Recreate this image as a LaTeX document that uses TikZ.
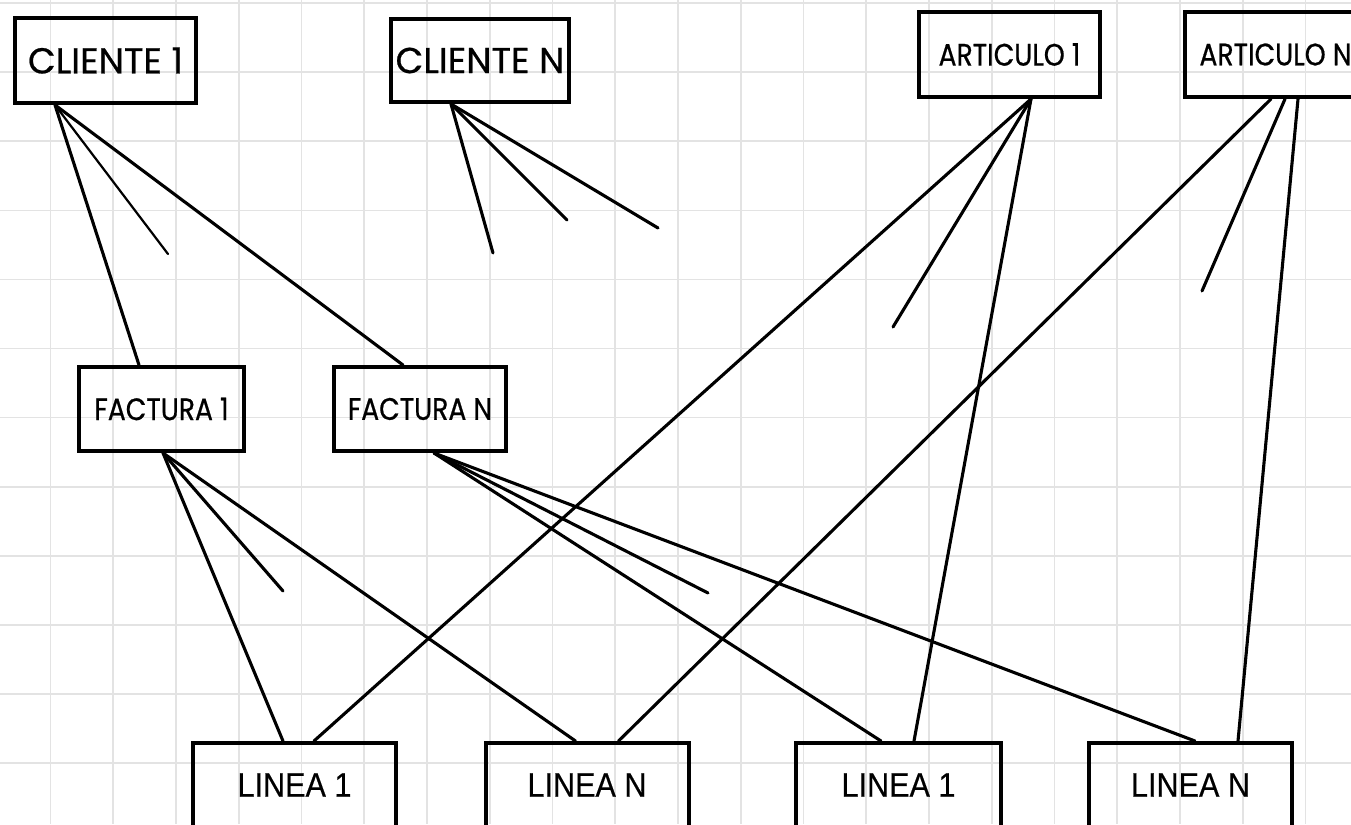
\documentclass[tikz,border=0pt]{standalone}
\usepackage{fontspec}
\newfontfamily\gothicfont[FakeStretch=1.0, FakeBold=0.6]{Poppins}
\newfontfamily\gothicnarrow[FakeStretch=0.86, FakeBold=0.6]{Poppins}
\newfontfamily\linefont[FakeStretch=0.9, FakeBold=0.4]{Liberation Sans}
\usetikzlibrary{positioning}

\begin{document}
\begin{tikzpicture}[
    x=1pt, y=-1pt,
    % Styles for boxes and connectors
    entity/.style={draw, line width=4pt, inner sep=0pt, minimum width=181pt, minimum height=85pt, align=center, font=\gothicfont\fontsize{36}{36}\selectfont},
    smalltext/.style={font=\gothicnarrow\fontsize{31}{31}\selectfont},
    linea/.style={draw, line width=4pt, inner sep=0pt, minimum width=203pt, minimum height=84pt, align=center, font=\linefont\fontsize{34}{34}\selectfont},
    link/.style={line width=3.1pt, line cap=round},
    thinlink/.style={line width=2.2pt, line cap=round},
    gridline/.style={draw=gray!22, line width=1.6pt}
]

% Background and grid
\useasboundingbox (0,0) rectangle (1351,824);
\fill[white] (0,0) rectangle (1351,824);
\clip (0,0) rectangle (1351,824);
\foreach \k in {0,...,20} {
    \draw[gridline] (50.5+62.75*\k,0) -- (50.5+62.75*\k,824);
}
\foreach \k in {0,...,11} {
    \draw[gridline] (0,3+69.1*\k) -- (1351,3+69.1*\k);
}

% Clients and articles (top row)
\node[entity] (cli1) at (105.5,60.5) {CLIENTE 1};
\node[entity, minimum width=178pt, minimum height=83pt] (cliN) at (480,60.5) {CLIENTE N};
\node[entity, smalltext] (art1) at (1009.5,54.5) {ARTICULO 1};
\node[entity, smalltext] (artN) at (1275.5,54.5) {ARTICULO N};

% Invoices
\node[entity, smalltext, minimum width=165pt, minimum height=84pt] (fac1) at (161.5,409) {FACTURA 1};
\node[entity, smalltext, minimum width=172pt, minimum height=84pt] (facN) at (420,409) {FACTURA N};

% Invoice lines (bottom row)
\node[linea] (lin1a) at (294.5,785) {LINEA 1};
\node[linea] (linNa) at (587,785) {LINEA N};
\node[linea, minimum width=205pt] (lin1b) at (898.5,785) {LINEA 1};
\node[linea] (linNb) at (1190.5,785) {LINEA N};

% Loose ends
\coordinate (cli1end) at (168,254);
\coordinate (cliNendA) at (493,253);
\coordinate (cliNendB) at (567,220);
\coordinate (cliNendC) at (658,228);
\coordinate (art1end) at (893,327);
\coordinate (artNend) at (1202,291);
\coordinate (fac1end) at (283,591);
\coordinate (facNend) at (708,593);

% CLIENTE 1
\draw[link] ([xshift=42pt]cli1.south west) -- ([xshift=62pt]fac1.north west);
\draw[link] ([xshift=42pt]cli1.south west) -- ([xshift=71pt]facN.north west);
\draw[thinlink] ([xshift=42pt]cli1.south west) -- (cli1end);

% CLIENTE N
\draw[link] ([xshift=62pt]cliN.south west) -- (cliNendA);
\draw[link] ([xshift=62pt]cliN.south west) -- (cliNendB);
\draw[link] ([xshift=62pt]cliN.south west) -- (cliNendC);

% ARTICULO 1
\draw[link] ([xshift=114pt]art1.south west) -- ([xshift=123pt]lin1a.north west);
\draw[link] ([xshift=114pt]art1.south west) -- (art1end);
\draw[link] ([xshift=114pt]art1.south west) -- ([xshift=120pt]lin1b.north west);

% ARTICULO N
\draw[link] ([xshift=88pt]artN.south west) -- ([xshift=135pt]linNa.north west);
\draw[link] ([xshift=102pt]artN.south west) -- (artNend);
\draw[link] ([xshift=115pt]artN.south west) -- ([xshift=151pt]linNb.north west);

% FACTURA 1
\draw[link] ([xshift=86pt]fac1.south west) -- ([xshift=92pt]lin1a.north west);
\draw[link] ([xshift=86pt]fac1.south west) -- (fac1end);
\draw[link] ([xshift=86pt]fac1.south west) -- ([xshift=92pt]linNa.north west);

% FACTURA N
\draw[link] ([xshift=102pt]facN.south west) -- (facNend);
\draw[link] ([xshift=102pt]facN.south west) -- ([xshift=87pt]lin1b.north west);
\draw[link] ([xshift=102pt]facN.south west) -- ([xshift=108pt]linNb.north west);

\end{tikzpicture}
\end{document}
